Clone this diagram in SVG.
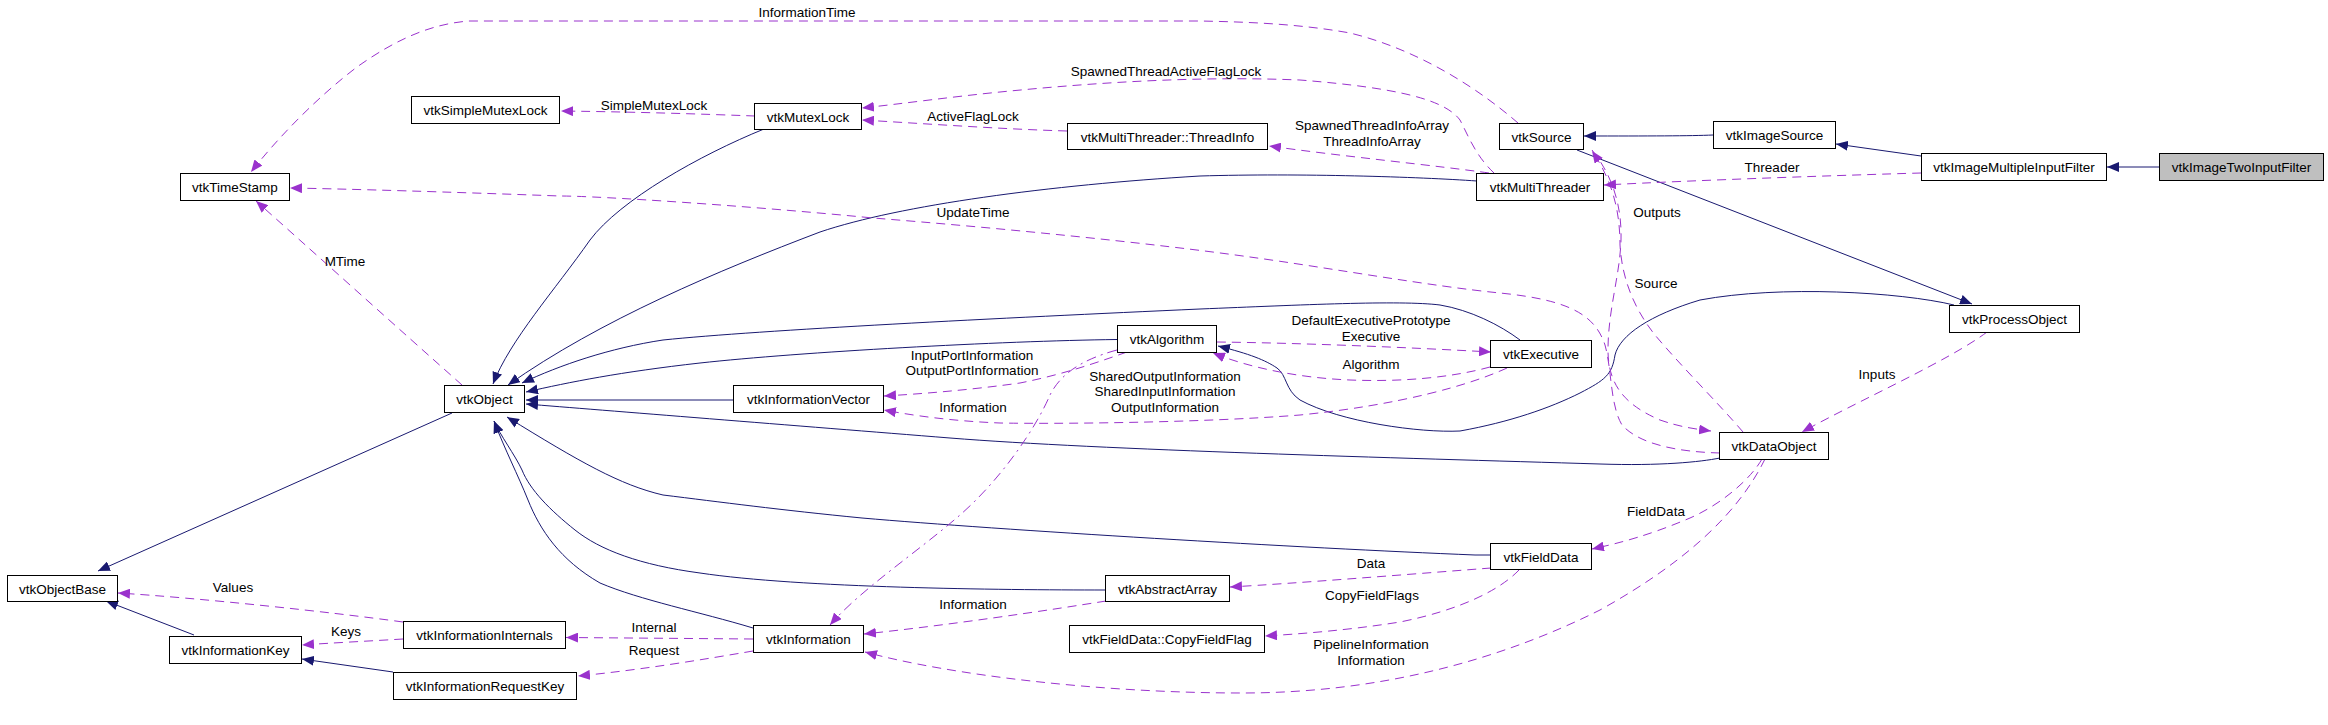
<svg xmlns="http://www.w3.org/2000/svg" width="2328" height="725" viewBox="0 0 2328 725">
<defs>
<style>
.n rect{fill:#fff;stroke:#000;stroke-width:1}
.n text,.lbl{font-family:"Liberation Sans",Arial,sans-serif;font-size:13.5px;fill:#000}
.n text{text-anchor:middle}
.lbl{text-anchor:middle}
.s{fill:none;stroke:#191970;stroke-width:1;marker-end:url(#ab)}
.d{fill:none;stroke:#9a32cd;stroke-width:1;stroke-dasharray:9,6;marker-end:url(#ap)}
.dd{fill:none;stroke:#9a32cd;stroke-width:1;stroke-dasharray:10,5,2,5;marker-end:url(#ap)}
</style>
<marker id="ab" viewBox="0 0 12 10" refX="12" refY="5" markerWidth="12" markerHeight="10" markerUnits="userSpaceOnUse" orient="auto"><path d="M0,0 L12,5 L0,10 z" fill="#191970"/></marker>
<marker id="ap" viewBox="0 0 12 10" refX="12" refY="5" markerWidth="12" markerHeight="10" markerUnits="userSpaceOnUse" orient="auto"><path d="M0,0 L12,5 L0,10 z" fill="#9a32cd"/></marker>
</defs>
<rect width="2328" height="725" fill="#fff"/>
<g id="connectors">
<path class="s" d="M2159,167 L2107,167"/>
<path class="s" d="M1921,156 L1836,144"/>
<path class="s" d="M1713,135 C1690,136 1650,136 1584,136"/>
<path class="s" d="M1577,150 L1972,304"/>
<path class="s" d="M1954,305 C1900,292 1780,285 1700,300 C1650,315 1620,335 1615,355 C1612,375 1605,380 1580,393 C1550,408 1510,422 1460,431 C1420,433 1340,422 1300,400 C1285,390 1287,375 1277,368 C1265,360 1250,354 1218,346"/>
<path class="s" d="M1117,339.5 C1000,341 800,352 700,363 C620,372 570,382 526,392"/>
<path class="s" d="M1520,340 C1500,325 1470,310 1440,305 C1400,300 1300,305 1200,309 C1000,318 760,330 663,340 C610,348 560,365 522,383"/>
<path class="s" d="M1477,181 C1420,177 1300,173 1200,176 C1050,185 900,205 820,232 C720,270 600,320 508,385"/>
<path class="s" d="M764,129 C700,155 620,200 590,240 C555,290 510,340 493,384"/>
<path class="s" d="M733,400 L526,400"/>
<path class="s" d="M1720,458 C1700,462 1660,466 1600,464 C1400,458 1100,450 950,438 C800,426 600,410 526,404"/>
<path class="s" d="M1491,555 L1475,555 C1300,548 1000,530 862,518 C780,510 720,502 663,495 C620,485 580,462 507,417"/>
<path class="s" d="M1105,590 C1000,590 800,588 700,573 C640,565 600,550 575,530 C550,510 530,490 522,470 C515,455 500,435 494,421"/>
<path class="s" d="M753,628 C700,612 640,600 600,583 C560,560 540,530 528,500 C518,475 505,450 494,421"/>
<path class="s" d="M452,413 L98,571"/>
<path class="s" d="M194,635 L106,601"/>
<path class="s" d="M393,672 L302,659"/>
<path class="d" d="M1518,123 C1480,90 1420,50 1350,33 C1300,24 1250,22 1200,21 L469,21 C430,24 395,40 357,67 C320,95 280,135 251,172"/>
<path class="d" d="M755,116 C700,114 640,112 561,111"/>
<path class="d" d="M1494,173 C1475,155 1468,135 1460,120 C1445,100 1400,88 1300,80 C1200,76 1100,82 1000,92 C950,97 900,104 862,108"/>
<path class="d" d="M1067,131 C1000,129 930,124 862,120"/>
<path class="d" d="M1489,173 C1440,166 1340,156 1269,146"/>
<path class="d" d="M1921,173 C1850,175 1700,180 1604,185"/>
<path class="d" d="M1720,453 C1680,452 1640,445 1622,425 C1610,405 1612,370 1605,345 C1595,315 1570,300 1500,293 C1430,286 1330,268 1250,257 C1150,243 1000,228 873,218 C750,206 600,196 560,196 C450,192 350,189 290,188"/>
<path class="d" d="M1592,150 C1612,175 1622,205 1621,240 C1620,275 1608,310 1608,350 C1608,385 1625,405 1660,420 C1680,427 1695,429 1711,431"/>
<path class="d" d="M1743,432 C1720,405 1680,365 1655,335 C1635,310 1622,280 1620,245 C1620,210 1612,180 1592,151"/>
<path class="d" d="M1987,332 C1950,360 1860,400 1802,432"/>
<path class="d" d="M1217,342 C1300,343 1400,347 1491,352"/>
<path class="d" d="M1490,367 C1450,378 1400,382 1350,380 C1300,378 1250,368 1213,353"/>
<path class="d" d="M1507,368 C1470,385 1400,405 1300,415 C1200,423 1050,424 1000,423 C950,421 910,415 884,410"/>
<path class="d" d="M1127,352 C1090,365 1060,375 1020,383 C970,390 920,394 884,396"/>
<path class="dd" d="M1117,350 C1080,360 1060,375 1050,395 C1035,430 1000,480 960,515 C920,550 860,590 830,625"/>
<path class="d" d="M403,622 C330,612 200,598 118,593"/>
<path class="d" d="M403,639 C370,641 330,643 302,645"/>
<path class="d" d="M753,639 L566,637.5"/>
<path class="d" d="M753,651 C700,660 640,670 578,676"/>
<path class="d" d="M1106,601 C1050,610 950,625 864,634"/>
<path class="d" d="M1491,568 C1400,575 1300,583 1230,587"/>
<path class="d" d="M1519,570 C1500,590 1460,610 1400,622 C1350,630 1300,634 1265,636"/>
<path class="d" d="M1762,459 C1750,480 1720,505 1690,518 C1650,535 1620,543 1592,549"/>
<path class="d" d="M1765,459 C1740,510 1690,560 1600,610 C1500,660 1380,693 1242,693 C1100,693 950,675 865,652"/>
<path class="d" d="M462,385 C400,330 300,240 256,201"/>
<text class="lbl" x="807" y="17">InformationTime</text>
<text class="lbl" x="654" y="110">SimpleMutexLock</text>
<text class="lbl" x="1166" y="76">SpawnedThreadActiveFlagLock</text>
<text class="lbl" x="973" y="121">ActiveFlagLock</text>
<text class="lbl" x="1372" y="130">SpawnedThreadInfoArray</text>
<text class="lbl" x="1372" y="146">ThreadInfoArray</text>
<text class="lbl" x="1772" y="172">Threader</text>
<text class="lbl" x="973" y="217">UpdateTime</text>
<text class="lbl" x="1657" y="217">Outputs</text>
<text class="lbl" x="345" y="266">MTime</text>
<text class="lbl" x="1656" y="288">Source</text>
<text class="lbl" x="1371" y="325">DefaultExecutivePrototype</text>
<text class="lbl" x="1371" y="341">Executive</text>
<text class="lbl" x="1371" y="369">Algorithm</text>
<text class="lbl" x="972" y="360">InputPortInformation</text>
<text class="lbl" x="972" y="375">OutputPortInformation</text>
<text class="lbl" x="1165" y="381">SharedOutputInformation</text>
<text class="lbl" x="1165" y="396">SharedInputInformation</text>
<text class="lbl" x="1165" y="412">OutputInformation</text>
<text class="lbl" x="973" y="412">Information</text>
<text class="lbl" x="1877" y="379">Inputs</text>
<text class="lbl" x="1656" y="516">FieldData</text>
<text class="lbl" x="1371" y="568">Data</text>
<text class="lbl" x="1372" y="600">CopyFieldFlags</text>
<text class="lbl" x="973" y="609">Information</text>
<text class="lbl" x="1371" y="649">PipelineInformation</text>
<text class="lbl" x="1371" y="665">Information</text>
<text class="lbl" x="233" y="592">Values</text>
<text class="lbl" x="346" y="636">Keys</text>
<text class="lbl" x="654" y="632">Internal</text>
<text class="lbl" x="654" y="655">Request</text>
</g>
<g id="vtkImageTwoInputFilter" class="n"><rect x="2159.5" y="153.5" width="164" height="27" style="fill:#bfbfbf"/><text x="2241.5" y="172">vtkImageTwoInputFilter</text></g>
<g id="vtkImageMultipleInputFilter" class="n"><rect x="1921.5" y="153.5" width="185" height="27"/><text x="2014" y="172">vtkImageMultipleInputFilter</text></g>
<g id="vtkImageSource" class="n"><rect x="1713.5" y="121.5" width="122" height="27"/><text x="1774.5" y="140">vtkImageSource</text></g>
<g id="vtkSource" class="n"><rect x="1499.5" y="123.5" width="84" height="26"/><text x="1541.5" y="141.5">vtkSource</text></g>
<g id="vtkProcessObject" class="n"><rect x="1949.5" y="305.5" width="130" height="27"/><text x="2014.5" y="324">vtkProcessObject</text></g>
<g id="vtkAlgorithm" class="n"><rect x="1117.5" y="325.5" width="99" height="27"/><text x="1167" y="344">vtkAlgorithm</text></g>
<g id="vtkObject" class="n"><rect x="444.5" y="385.5" width="80" height="27"/><text x="484.5" y="404">vtkObject</text></g>
<g id="vtkObjectBase" class="n"><rect x="7.5" y="575.5" width="110" height="26"/><text x="62.5" y="593.5">vtkObjectBase</text></g>
<g id="vtkTimeStamp" class="n"><rect x="180.5" y="173.5" width="109" height="27"/><text x="235" y="192">vtkTimeStamp</text></g>
<g id="vtkMutexLock" class="n"><rect x="754.5" y="103.5" width="107" height="26"/><text x="808" y="121.5">vtkMutexLock</text></g>
<g id="vtkSimpleMutexLock" class="n"><rect x="411.5" y="96.5" width="148" height="27"/><text x="485.5" y="115">vtkSimpleMutexLock</text></g>
<g id="vtkMultiThreader" class="n"><rect x="1476.5" y="173.5" width="127" height="27"/><text x="1540" y="192">vtkMultiThreader</text></g>
<g id="vtkMultiThreader_ThreadInfo" class="n"><rect x="1067.5" y="123.5" width="200" height="26"/><text x="1167.5" y="141.5">vtkMultiThreader::ThreadInfo</text></g>
<g id="vtkExecutive" class="n"><rect x="1490.5" y="340.5" width="101" height="27"/><text x="1541" y="359">vtkExecutive</text></g>
<g id="vtkInformationVector" class="n"><rect x="733.5" y="385.5" width="150" height="27"/><text x="808.5" y="404">vtkInformationVector</text></g>
<g id="vtkDataObject" class="n"><rect x="1719.5" y="432.5" width="109" height="27"/><text x="1774" y="451">vtkDataObject</text></g>
<g id="vtkFieldData" class="n"><rect x="1490.5" y="543.5" width="101" height="26"/><text x="1541" y="561.5">vtkFieldData</text></g>
<g id="vtkAbstractArray" class="n"><rect x="1105.5" y="575.5" width="124" height="26"/><text x="1167.5" y="593.5">vtkAbstractArray</text></g>
<g id="vtkFieldData_CopyFieldFlag" class="n"><rect x="1069.5" y="625.5" width="195" height="27"/><text x="1167" y="644">vtkFieldData::CopyFieldFlag</text></g>
<g id="vtkInformation" class="n"><rect x="753.5" y="625.5" width="110" height="27"/><text x="808.5" y="644">vtkInformation</text></g>
<g id="vtkInformationInternals" class="n"><rect x="403.5" y="621.5" width="162" height="27"/><text x="484.5" y="640">vtkInformationInternals</text></g>
<g id="vtkInformationKey" class="n"><rect x="169.5" y="636.5" width="132" height="27"/><text x="235.5" y="655">vtkInformationKey</text></g>
<g id="vtkInformationRequestKey" class="n"><rect x="393.5" y="672.5" width="183" height="27"/><text x="485" y="691">vtkInformationRequestKey</text></g>
</svg>
